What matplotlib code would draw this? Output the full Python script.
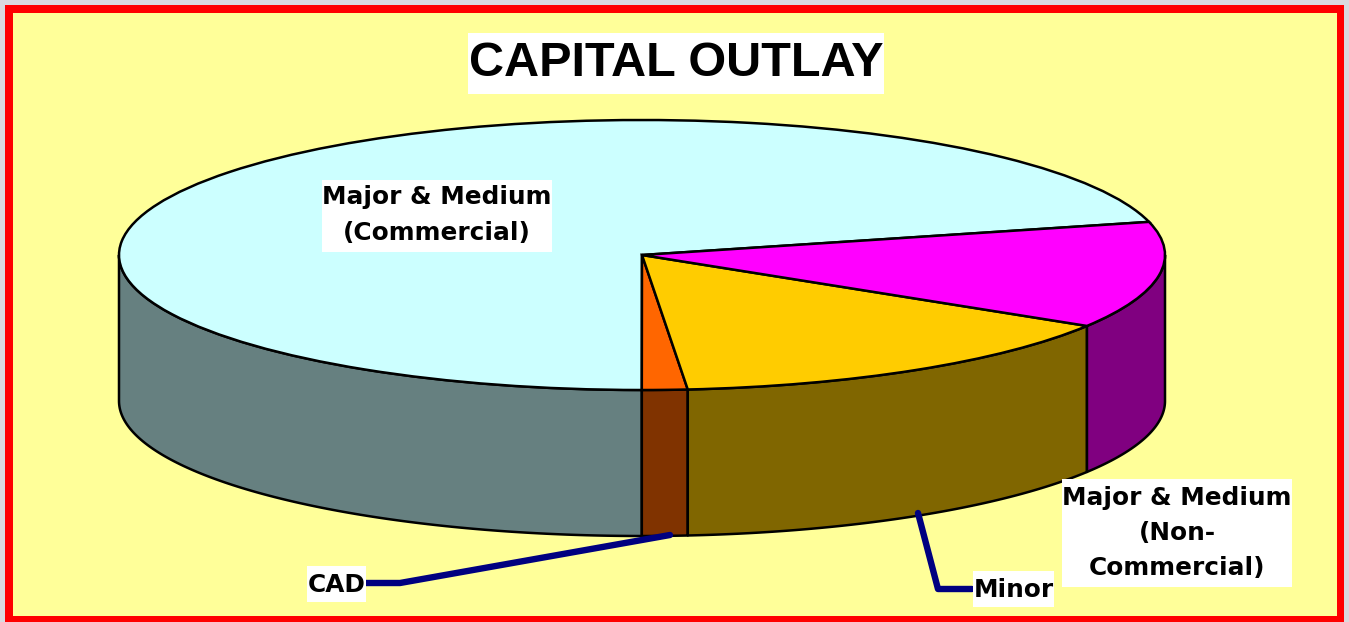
import numpy as np
import matplotlib
matplotlib.use("Agg")
import matplotlib.pyplot as plt
from matplotlib.patches import Rectangle, Wedge
from matplotlib.transforms import Affine2D

# shares, percent
labels = ["Major & Medium\n(Commercial)", "CAD", "Minor", "Major & Medium\n(Non-\nCommercial)"]
shares = [71.05, 1.4, 14.8, 12.75]
top_colors = ["#CCFFFF", "#FF6600", "#FFCC00", "#FF00FF"]
side_colors = ["#668080", "#803300", "#806600", "#800080"]
start_angle = 14.2

cx, cy, rx, ry, depth = 642, 255, 523, 135, 146

fig = plt.figure(figsize=(13.49, 6.22), dpi=100, facecolor="#DADADE")
ax = fig.add_axes([0, 0, 1, 1])
ax.set_xlim(0, 1349)
ax.set_ylim(622, 0)
ax.axis("off")

# frame
ax.add_patch(Rectangle((5, 5), 1339, 617, fc="#FF0000", lw=0))
ax.add_patch(Rectangle((13, 13), 1324, 603, fc="#FFFF99", lw=0))

angles = start_angle + np.cumsum([0] + shares) * 3.6
ellipse = Affine2D().scale(rx, -ry).translate(cx, cy) + ax.transData

# side walls, only the front half of the pie shows one
for i in range(len(shares)):
    a0 = max(angles[i], 180)
    a1 = min(angles[i + 1], 360)
    if a1 <= a0:
        continue
    t = np.radians(np.linspace(a0, a1, 120))
    x = cx + rx * np.cos(t)
    y = cy - ry * np.sin(t)
    ax.fill(np.r_[x, x[::-1]], np.r_[y, y[::-1] + depth], fc=side_colors[i],
            ec="black", lw=1.8, joinstyle="round", zorder=2)

# top faces
for i in range(len(shares)):
    ax.add_patch(Wedge((0, 0), 1, angles[i], angles[i + 1], fc=top_colors[i],
                       ec="black", lw=1.8, transform=ellipse, zorder=3))

# leader lines
ax.plot([366, 400, 670], [583, 583, 535], color="#000080", lw=4.6,
        solid_capstyle="round", solid_joinstyle="round", zorder=4)
ax.plot([918, 938, 972], [513, 589, 589], color="#000080", lw=4.6,
        solid_capstyle="round", solid_joinstyle="round", zorder=4)

# title and label boxes
ax.add_patch(Rectangle((468, 33), 416, 61, fc="white", lw=0, zorder=5))
ax.text(676, 64, "CAPITAL OUTLAY", family="Liberation Sans", weight="bold", fontsize=35,
        ha="center", va="center", color="black", zorder=6)

label_font = dict(family="DejaVu Sans", weight="bold", fontsize=17.8, color="black",
                  ha="center", va="center", linespacing=1.6, zorder=6)
ax.add_patch(Rectangle((322, 180), 230, 72, fc="white", lw=0, zorder=5))
ax.text(437, 215, labels[0], **label_font)
ax.add_patch(Rectangle((1062, 479), 230, 108, fc="white", lw=0, zorder=5))
ax.text(1177, 533, labels[3], **label_font)
ax.add_patch(Rectangle((307, 566), 59, 36, fc="white", lw=0, zorder=5))
ax.text(336.5, 585, labels[1], **label_font)
ax.add_patch(Rectangle((973, 571), 81, 36, fc="white", lw=0, zorder=5))
ax.text(1013.5, 590, labels[2], **label_font)

fig.savefig("out.png", dpi=100, facecolor=fig.get_facecolor())
